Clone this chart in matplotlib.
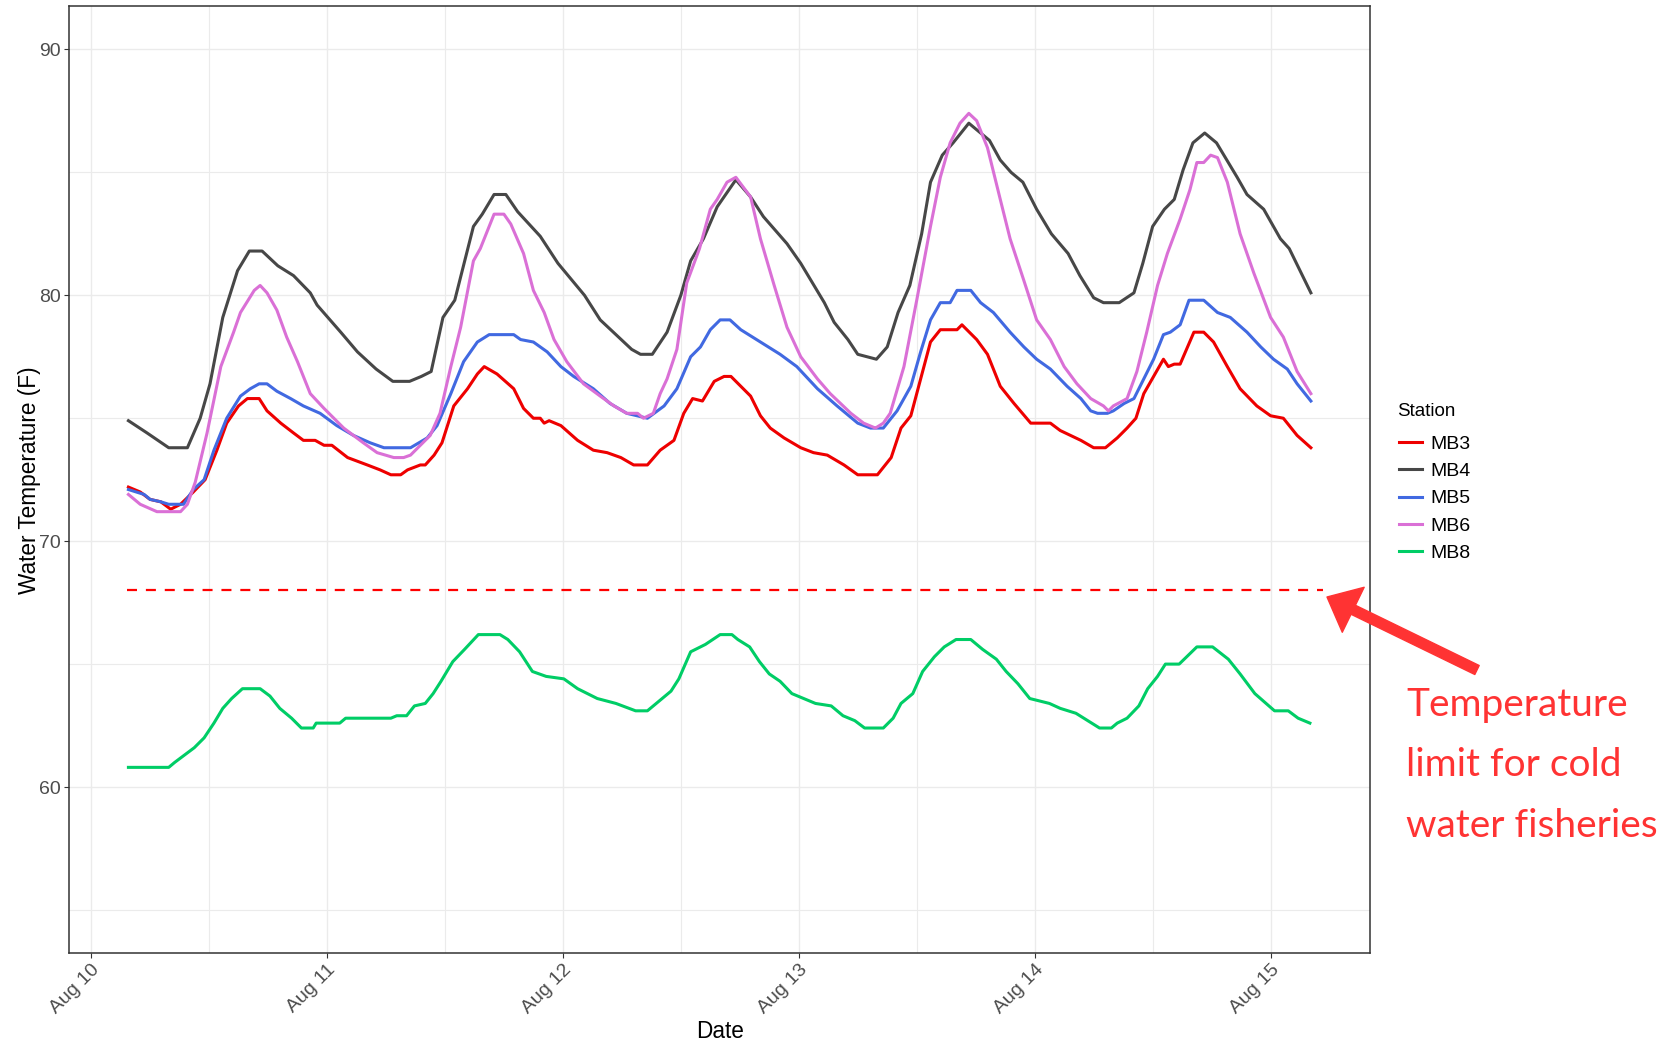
import matplotlib.pyplot as plt
from matplotlib.lines import Line2D

# hours since Aug 10 00:00, water temperature in F
mb3_h = [3.8, 5.0, 6.0, 7.1, 8.1, 9.1, 10.4, 11.6, 12.8, 13.8, 15.0, 15.9, 17.1, 17.9, 19.3, 20.6,
         21.6, 22.8, 23.7, 24.5, 26.1, 28.1, 29.4, 30.5, 31.5, 32.2, 33.5, 34.0, 34.9, 35.7, 36.9,
         38.3, 39.3, 40.0, 41.3, 43.0, 44.0, 45.0, 45.7, 46.1, 46.6, 47.8, 49.5, 51.1, 52.5, 53.9,
         55.2, 56.6, 57.9, 59.3, 60.3, 61.2, 62.2, 63.4, 64.4, 65.1, 67.1, 68.1, 69.1, 70.5, 72.2,
         73.5, 74.9, 76.6, 78.0, 80.0, 81.4, 82.4, 83.4, 84.4, 85.4, 86.4, 88.1, 88.6, 90.1, 91.2,
         91.8, 92.5, 93.9, 95.6, 97.6, 98.6, 100.7, 102.0, 103.2, 104.4, 105.4, 106.3, 107.1, 108.1,
         109.1, 109.6, 110.2, 110.8, 112.2, 113.2, 114.2, 115.6, 116.9, 118.6, 120.0, 121.3, 122.7,
         124.1]
mb3_t = [72.2, 72.0, 71.7, 71.6, 71.3, 71.5, 72.0, 72.5, 73.7, 74.8, 75.5, 75.8, 75.8, 75.3, 74.8,
         74.4, 74.1, 74.1, 73.9, 73.9, 73.4, 73.1, 72.9, 72.7, 72.7, 72.9, 73.1, 73.1, 73.5, 74.0,
         75.5, 76.2, 76.8, 77.1, 76.8, 76.2, 75.4, 75.0, 75.0, 74.8, 74.9, 74.7, 74.1, 73.7, 73.6,
         73.4, 73.1, 73.1, 73.7, 74.1, 75.2, 75.8, 75.7, 76.5, 76.7, 76.7, 75.9, 75.1, 74.6, 74.2,
         73.8, 73.6, 73.5, 73.1, 72.7, 72.7, 73.4, 74.6, 75.1, 76.6, 78.1, 78.6, 78.6, 78.8, 78.2,
         77.6, 77.0, 76.3, 75.6, 74.8, 74.8, 74.5, 74.1, 73.8, 73.8, 74.2, 74.6, 75.0, 76.0, 76.7,
         77.4, 77.1, 77.2, 77.2, 78.5, 78.5, 78.1, 77.1, 76.2, 75.5, 75.1, 75.0, 74.3, 73.8]

mb4_h = [3.8, 5.7, 7.9, 9.8, 11.1, 12.1, 13.4, 14.9, 16.1, 17.4, 19.0, 20.6, 22.3, 23.0, 25.4, 27.1,
         29.0, 30.7, 32.4, 33.6, 34.6, 35.8, 37.0, 38.9, 39.8, 41.0, 42.2, 43.4, 45.7, 47.5, 50.2,
         51.8, 55.0, 55.9, 57.1, 58.6, 60.0, 61.0, 62.3, 63.7, 65.6, 67.1, 68.4, 70.8, 72.2, 74.6,
         75.6, 77.0, 78.0, 79.9, 81.0, 82.1, 83.3, 84.5, 85.4, 86.6, 87.7, 89.3, 90.5, 91.4, 92.5,
         93.6, 94.8, 96.2, 97.7, 99.4, 100.6, 102.0, 103.0, 104.6, 106.1, 107.0, 108.0, 109.2,
         110.2, 111.1, 112.1, 113.3, 114.5, 116.6, 117.6, 119.3, 121.0, 121.9, 124.1]
mb4_t = [74.9, 74.4, 73.8, 73.8, 75.0, 76.4, 79.1, 81.0, 81.8, 81.8, 81.2, 80.8, 80.1, 79.6, 78.5,
         77.7, 77.0, 76.5, 76.5, 76.7, 76.9, 79.1, 79.8, 82.8, 83.3, 84.1, 84.1, 83.4, 82.4, 81.3,
         80.0, 79.0, 77.8, 77.6, 77.6, 78.5, 80.0, 81.4, 82.3, 83.6, 84.7, 84.0, 83.2, 82.1, 81.3,
         79.7, 78.9, 78.2, 77.6, 77.4, 77.9, 79.3, 80.4, 82.5, 84.6, 85.7, 86.2, 87.0, 86.6, 86.3,
         85.5, 85.0, 84.6, 83.5, 82.5, 81.7, 80.8, 79.9, 79.7, 79.7, 80.1, 81.3, 82.8, 83.5, 83.9,
         85.1, 86.2, 86.6, 86.2, 84.8, 84.1, 83.5, 82.3, 81.9, 80.1]

mb5_h = [3.8, 5.4, 6.0, 7.1, 7.9, 9.4, 10.4, 11.5, 12.5, 13.8, 15.2, 16.2, 17.1, 17.9, 18.9, 20.3,
         21.6, 23.3, 25.0, 26.7, 28.4, 29.8, 32.5, 34.2, 35.2, 36.6, 37.9, 39.3, 40.5, 43.0, 43.7,
         45.0, 46.4, 47.8, 49.1, 51.1, 52.8, 54.5, 56.6, 58.3, 59.6, 61.0, 62.0, 63.0, 64.0, 65.0,
         66.1, 68.1, 70.1, 71.8, 73.9, 75.9, 78.0, 79.3, 80.6, 82.0, 83.4, 84.4, 85.4, 86.4, 87.4,
         88.1, 89.5, 90.5, 91.8, 93.5, 94.9, 96.2, 97.6, 99.3, 100.7, 101.7, 102.4, 103.4, 104.0,
         105.1, 106.1, 107.1, 108.1, 109.1, 109.8, 110.8, 111.7, 113.2, 114.6, 115.9, 117.6, 119.0,
         120.3, 121.7, 122.7, 124.1]
mb5_t = [72.1, 71.9, 71.7, 71.6, 71.5, 71.5, 72.1, 72.5, 73.7, 75.0, 75.9, 76.2, 76.4, 76.4, 76.1,
         75.8, 75.5, 75.2, 74.7, 74.3, 74.0, 73.8, 73.8, 74.2, 74.7, 76.0, 77.3, 78.1, 78.4, 78.4,
         78.2, 78.1, 77.7, 77.1, 76.7, 76.2, 75.6, 75.2, 75.0, 75.5, 76.2, 77.5, 77.9, 78.6, 79.0,
         79.0, 78.6, 78.1, 77.6, 77.1, 76.2, 75.5, 74.8, 74.6, 74.6, 75.3, 76.3, 77.7, 79.0, 79.7,
         79.7, 80.2, 80.2, 79.7, 79.3, 78.5, 77.9, 77.4, 77.0, 76.3, 75.8, 75.3, 75.2, 75.2, 75.3,
         75.6, 75.8, 76.6, 77.4, 78.4, 78.5, 78.8, 79.8, 79.8, 79.3, 79.1, 78.5, 77.9, 77.4, 77.0,
         76.4, 75.7]

mb6_h = [3.8, 5.0, 6.7, 9.1, 9.8, 10.6, 11.8, 13.2, 14.5, 15.2, 16.6, 17.2, 17.9, 18.9, 19.9, 21.0,
         22.3, 23.7, 25.7, 27.7, 29.1, 30.8, 31.8, 32.5, 33.5, 34.5, 35.5, 36.6, 37.6, 38.9, 39.6,
         41.0, 42.0, 42.7, 44.0, 45.0, 46.1, 47.1, 48.4, 50.1, 51.8, 53.2, 54.5, 55.6, 56.2, 57.2,
         57.9, 58.6, 59.6, 60.6, 61.9, 63.0, 63.7, 64.7, 65.6, 67.1, 68.1, 69.5, 70.8, 72.2, 73.9,
         75.2, 77.3, 78.6, 79.8, 80.6, 81.3, 82.7, 84.0, 85.4, 86.4, 87.4, 88.4, 89.3, 90.1, 91.2,
         92.5, 93.5, 94.9, 96.2, 97.6, 99.0, 100.3, 101.7, 103.0, 103.5, 104.0, 105.4, 106.4, 107.4,
         108.5, 109.5, 110.8, 111.8, 112.5, 113.2, 113.9, 114.6, 115.6, 116.9, 118.3, 120.0, 121.3,
         122.7, 124.1]
mb6_t = [71.9, 71.5, 71.2, 71.2, 71.5, 72.4, 74.4, 77.1, 78.5, 79.3, 80.2, 80.4, 80.1, 79.4, 78.3,
         77.3, 76.0, 75.4, 74.6, 74.0, 73.6, 73.4, 73.4, 73.5, 73.9, 74.3, 75.2, 77.1, 78.7, 81.4,
         81.9, 83.3, 83.3, 82.9, 81.7, 80.2, 79.3, 78.2, 77.3, 76.4, 75.9, 75.5, 75.2, 75.2, 75.0,
         75.2, 76.0, 76.6, 77.8, 80.5, 81.9, 83.5, 83.9, 84.6, 84.8, 84.0, 82.3, 80.4, 78.7, 77.5,
         76.6, 76.0, 75.2, 74.8, 74.6, 74.8, 75.2, 77.1, 79.8, 82.8, 84.8, 86.2, 87.0, 87.4, 87.1,
         86.0, 83.9, 82.3, 80.6, 79.0, 78.2, 77.1, 76.4, 75.8, 75.5, 75.3, 75.5, 75.8, 76.9, 78.5,
         80.4, 81.7, 83.1, 84.3, 85.4, 85.4, 85.7, 85.6, 84.6, 82.5, 80.9, 79.1, 78.3, 76.9, 76.0]

mb8_h = [3.8, 7.9, 8.5, 9.5, 10.5, 11.5, 12.5, 13.4, 14.3, 15.4, 17.2, 18.2, 19.2, 20.4, 21.4, 22.6,
         22.9, 25.3, 25.9, 30.5, 31.1, 32.1, 32.9, 34.0, 34.8, 35.6, 36.8, 38.0, 39.4, 41.6, 42.4,
         43.6, 44.9, 46.3, 48.1, 49.5, 51.5, 53.4, 55.4, 56.6, 57.8, 59.0, 59.8, 61.0, 62.5, 64.0,
         65.2, 65.8, 67.0, 68.0, 69.0, 70.1, 71.3, 72.5, 73.7, 75.3, 76.5, 77.7, 78.7, 80.6, 81.6,
         82.4, 83.6, 84.6, 85.8, 86.8, 88.0, 89.5, 90.7, 92.1, 93.1, 94.3, 95.5, 97.5, 98.6, 100.2,
         101.4, 102.6, 103.8, 104.4, 105.4, 106.6, 107.5, 108.5, 109.3, 110.7, 112.5, 114.1, 115.7,
         116.9, 118.4, 120.4, 121.8, 122.8, 124.0]
mb8_t = [60.8, 60.8, 61.0, 61.3, 61.6, 62.0, 62.6, 63.2, 63.6, 64.0, 64.0, 63.7, 63.2, 62.8, 62.4,
         62.4, 62.6, 62.6, 62.8, 62.8, 62.9, 62.9, 63.3, 63.4, 63.8, 64.3, 65.1, 65.6, 66.2, 66.2,
         66.0, 65.5, 64.7, 64.5, 64.4, 64.0, 63.6, 63.4, 63.1, 63.1, 63.5, 63.9, 64.4, 65.5, 65.8,
         66.2, 66.2, 66.0, 65.7, 65.1, 64.6, 64.3, 63.8, 63.6, 63.4, 63.3, 62.9, 62.7, 62.4, 62.4,
         62.8, 63.4, 63.8, 64.7, 65.3, 65.7, 66.0, 66.0, 65.6, 65.2, 64.7, 64.2, 63.6, 63.4, 63.2,
         63.0, 62.7, 62.4, 62.4, 62.6, 62.8, 63.3, 64.0, 64.5, 65.0, 65.0, 65.7, 65.7, 65.2, 64.6,
         63.8, 63.1, 63.1, 62.8, 62.6]

stations = ["MB3", "MB4", "MB5", "MB6", "MB8"]
series = {"MB3": (mb3_h, mb3_t), "MB4": (mb4_h, mb4_t), "MB5": (mb5_h, mb5_t),
          "MB6": (mb6_h, mb6_t), "MB8": (mb8_h, mb8_t)}
colors = {"MB3": "#EE0000", "MB4": "#474747", "MB5": "#4169E1",
          "MB6": "#DA70D6", "MB8": "#00CD66"}

limit_f = 68
limit_h = [3.7, 125.3]
day_ticks = [0, 24, 48, 72, 96, 120]
day_labels = ["Aug 10", "Aug 11", "Aug 12", "Aug 13", "Aug 14", "Aug 15"]

plt.rcParams['font.family'] = ['Liberation Sans', 'DejaVu Sans']

W, H = 1672, 1042
fig = plt.figure(figsize=(W / 100, H / 100), dpi=100)
ax = fig.add_axes([69.3 / W, 1 - 953 / H, (1370 - 69.3) / W, (953 - 6.4) / H])

for s in stations:
    h, t = series[s]
    ax.plot(h, t, color=colors[s], lw=2.2, label=s, solid_joinstyle='round')

# cold water fisheries limit
ax.plot(limit_h, [limit_f, limit_f], color='#FF0000', lw=1.6, ls=(0, (4.5, 4)))

ax.set_xticks(day_ticks)
ax.set_xticklabels(day_labels, rotation=45, ha='right', va='top', rotation_mode='anchor')
ax.set_xticks([d + 12 for d in day_ticks], minor=True)
ax.set_yticks([60, 70, 80, 90])
ax.set_yticks([55, 65, 75, 85], minor=True)

# limits set after the ticks so the ticks do not widen them (ggplot-style 5% expansion)
all_h = [v for s in stations for v in series[s][0]]
hmin, hmax = min(all_h), max(all_h)
pad = (hmax - hmin) * 0.05
ax.set_xlim(hmin - pad, hmax + pad)
ax.set_ylim(55 - 1.75, 90 + 1.75)

ax.grid(which='major', color='#EBEBEB', lw=1.0)
ax.grid(which='minor', color='#EBEBEB', lw=0.8)
ax.set_axisbelow(True)
ax.tick_params(which='major', length=3.6, width=0.8, color='#333333',
               labelsize=14, labelcolor='#4D4D4D', pad=2.5)
ax.tick_params(which='minor', length=0)
for sp in ax.spines.values():
    sp.set_color('#333333')
    sp.set_linewidth(1.1)

ax.set_xlabel("Date", fontsize=16.3, color='black')
ax.xaxis.set_label_coords(0.5, (953 - 1031) / (953 - 6.4))
ax.xaxis.label.set_va('center')
ax.set_ylabel("Water Temperature (F)", fontsize=16.3, color='black')
ax.yaxis.set_label_coords((29.9 - 69.3) / (1370 - 69.3), 0.5)
ax.yaxis.label.set_va('center')

# legend: title placed on its own, entries centred on the middle row
fig.text(1397 / W, 1 - 416 / H, "Station", fontsize=13.5, color='black',
         ha='left', va='baseline')
handles = [Line2D([], [], color=colors[s], lw=2.2) for s in stations]
fig.legend(handles, stations, loc='center left',
           bbox_to_anchor=(1386.5 / W, 1 - 498.5 / H), frameon=False, fontsize=14,
           handlelength=1.2, handletextpad=0.42, labelspacing=0.5,
           borderpad=0.65, borderaxespad=0)

# annotation outside the panel
red = '#FF3333'
ax.annotate("", xy=(1327, H - 597), xytext=(1477, H - 670), xycoords='figure pixels',
            textcoords='figure pixels', annotation_clip=False,
            arrowprops=dict(arrowstyle='simple,head_length=21,head_width=36,tail_width=7.2',
                            color=red, shrinkA=0, shrinkB=0, mutation_scale=1))
for txt, yb in [("Temperature", 716.0), ("limit for cold", 776.5), ("water fisheries", 837.0)]:
    fig.text(1406 / W, 1 - yb / H, txt, color=red, fontsize=28, family='Lato',
             ha='left', va='baseline')

fig.savefig("out.png", dpi=100)
